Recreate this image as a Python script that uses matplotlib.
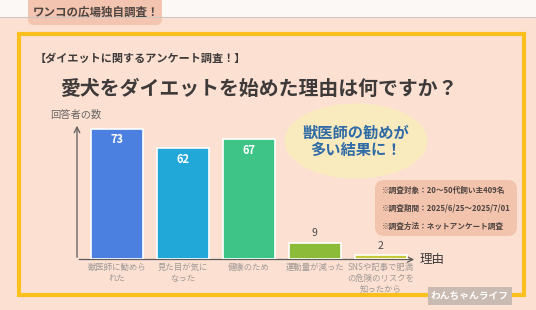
import matplotlib.pyplot as plt
from matplotlib.patches import FancyBboxPatch, Ellipse, Rectangle

plt.rcParams['font.family'] = ['Noto Sans CJK JP', 'DejaVu Sans']

# データ
categories = ["獣医師に勧めら\nれた", "見た目が気に\nなった", "健康のため", "運動量が減った",
              "SNSや記事で肥満\nの危険のリスクを\n知ったから"]
values = [73, 62, 67, 9, 2]
colors = ["#4B80E0", "#22A8D8", "#3DC486", "#8CBB3A", "#C9C73C"]
notes = ["※調査対象：20～50代飼い主409名",
         "※調査期間：2025/6/25～2025/7/01",
         "※調査方法：ネットアンケート調査"]

bg = "#FCE1D3"
fig = plt.figure(figsize=(5.36, 3.10), dpi=100, facecolor=bg)

# 装飾用の全面座標系 (ピクセル単位)
deco = fig.add_axes([0, 0, 1, 1])
deco.set_xlim(0, 536)
deco.set_ylim(310, 0)
deco.axis("off")

deco.add_patch(Rectangle((0, 0), 536, 17, facecolor="#FBF8F6", edgecolor="none"))
deco.plot([0, 536], [17, 17], color="#CFC6C0", lw=0.8)
deco.add_patch(FancyBboxPatch((28, -6), 134, 31, boxstyle="round,pad=0,rounding_size=6",
                              facecolor="#F3C5B0", edgecolor="none"))
deco.text(96, 12, "ワンコの広場独自調査！", ha="center", va="center", fontsize=8.3,
          fontweight="bold", color="#4E4440")

# 黄色い枠
deco.add_patch(Rectangle((18.5, 33.5), 505, 261, facecolor="none", edgecolor="#FBC01E", lw=3))

deco.text(35, 58, "【ダイエットに関するアンケート調査！】", ha="left", va="center", fontsize=8,
          fontweight="bold", color="#3E3A39")
deco.text(259, 88, "愛犬をダイエットを始めた理由は何ですか？", ha="center", va="center",
          fontsize=14.3, fontweight="bold", color="#3E3A39")
deco.text(50, 115, "回答者の数", ha="left", va="center", fontsize=7.4, color="#6A6462")

# 吹き出し
deco.add_patch(Ellipse((356, 141), 143, 75, facecolor="#FAEBBE", edgecolor="none"))
deco.text(356, 141, "獣医師の勧めが\n多い結果に！", ha="center", va="center", fontsize=11,
          fontweight="bold", color="#2F6BA6", linespacing=1.1)

# 調査概要
deco.add_patch(FancyBboxPatch((375, 180), 142, 56, boxstyle="round,pad=0,rounding_size=9",
                              facecolor="#F3C4AD", edgecolor="none"))
for i, note in enumerate(notes):
    deco.text(382, 190 + i * 18, note, ha="left", va="center", fontsize=5.5,
              fontweight="bold", color="#4E4440")

# ロゴ
deco.add_patch(Rectangle((428, 287), 84, 18, facecolor="#C9BBB2", edgecolor="none"))
deco.text(470, 296, "わんちゃんライフ", ha="center", va="center", fontsize=7,
          fontweight="bold", color="white")

# 軸の矢印
deco.annotate("", xy=(77, 123), xytext=(77, 260),
              arrowprops=dict(arrowstyle="->", color="#5A5A5A", lw=0.9))
deco.annotate("", xy=(417, 259.5), xytext=(76.5, 259.5),
              arrowprops=dict(arrowstyle="->", color="#5A5A5A", lw=0.9))
deco.text(420, 259, "理由", ha="left", va="center", fontsize=9, color="#3E3A39")

# 棒グラフ
ax = fig.add_axes([77 / 536, 51 / 310, 338 / 536, 134 / 310])
ax.patch.set_alpha(0)
x = range(len(values))
bars = ax.bar(x, values, width=0.79, color=colors, edgecolor="white", linewidth=1.2)
ax.set_xlim(-0.606, 4.52)
ax.set_ylim(0, 75)
for s in ax.spines.values():
    s.set_visible(False)
ax.set_yticks([])
ax.set_xticks(list(x))
ax.set_xticklabels(categories, fontsize=6, color="#A09894", linespacing=1.25, va="top")
ax.tick_params(axis="x", length=0, pad=3)

for b, v in zip(bars, values):
    cx = b.get_x() + b.get_width() / 2
    if v > 30:
        ax.text(cx, v - 2.5, str(v), ha="center", va="top", fontsize=8,
                fontweight="bold", color="white")
    else:
        ax.text(cx, v + 2.5, str(v), ha="center", va="bottom", fontsize=7.5,
                color="#4A4A4A")

fig.savefig("out.png", dpi=100, facecolor=bg)
